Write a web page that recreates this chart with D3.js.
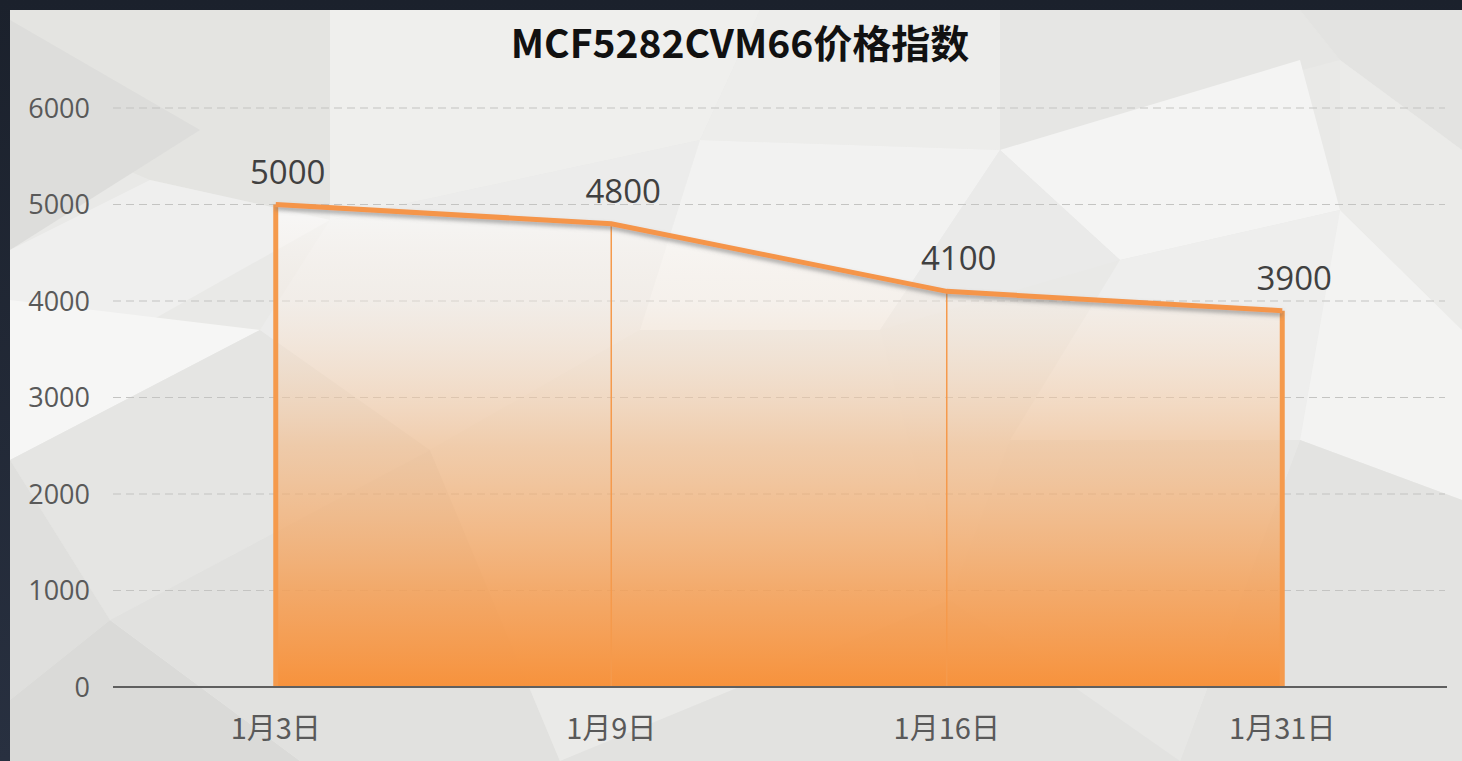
<!DOCTYPE html>
<html>
<head>
<meta charset="utf-8">
<script src="https://cdn.jsdelivr.net/npm/d3@7"></script>
<style>
html,body{margin:0;padding:0;background:#232a35;}
svg{display:block;}
</style>
</head>
<body>
<svg id="chart" width="1462" height="761"></svg>
<script>
const title = "MCF5282CVM66价格指数";
const categories = ["1月3日", "1月9日", "1月16日", "1月31日"];
const values = [5000, 4800, 4100, 3900];
const yTicks = [0, 1000, 2000, 3000, 4000, 5000, 6000];

const W = 1462, H = 761;
const svg = d3.select("#chart");
const defs = svg.append("defs");

// frame
const fg = defs.append("linearGradient").attr("id","frame").attr("x1",0).attr("y1",0).attr("x2",0).attr("y2",1);
fg.append("stop").attr("offset",0).attr("stop-color","#1b212c");
fg.append("stop").attr("offset",1).attr("stop-color","#283040");
svg.append("rect").attr("width",W).attr("height",H).attr("fill","url(#frame)");

// light low-poly background
const bg = svg.append("g");
bg.append("rect").attr("x",10).attr("y",10).attr("width",W-10).attr("height",H-10).attr("fill","#e9e9e7");
const polys = [
  [[10,10],[330,10],[330,220],[150,180],[10,120],"#e4e4e1"],
  [[10,20],[200,130],[10,250],"#dddddb"],
  [[330,10],[760,10],[700,140],[330,220],"#efefed"],
  [[760,10],[1000,10],[1000,150],[700,140],"#ededeb"],
  [[1000,10],[1300,10],[1340,60],[1000,150],"#e6e6e4"],
  [[1000,150],[1300,60],[1340,210],[1120,260],"#f4f4f3"],
  [[1300,10],[1462,10],[1462,150],[1340,60],"#e3e3e1"],
  [[1340,60],[1462,150],[1462,330],[1340,210],"#ebebe9"],
  [[10,250],[150,180],[330,220],[10,400],"#efefee"],
  [[10,300],[260,330],[10,460],"#f6f6f5"],
  [[10,460],[260,330],[430,450],[110,620],"#e5e5e3"],
  [[10,460],[110,620],[10,700],"#dfdfdd"],
  [[10,700],[110,620],[300,761],[10,761],"#dadad8"],
  [[110,620],[430,450],[560,761],[300,761],"#e1e1df"],
  [[330,220],[700,140],[640,330],[430,450],[260,330],"#ececeb"],
  [[700,140],[1000,150],[880,330],[640,330],"#f2f2f1"],
  [[1000,150],[1120,260],[880,330],"#eaeae9"],
  [[1120,260],[1340,210],[1300,440],[1010,440],"#eeeeed"],
  [[1340,210],[1462,330],[1462,500],[1300,440],"#f3f3f2"],
  [[1300,440],[1462,500],[1462,761],[1180,761],"#e3e3e1"],
  [[1010,440],[1300,440],[1180,761],[950,600],"#e7e7e5"],
  [[430,450],[640,330],[880,330],[950,600],[560,761],"#eaeae8"],
  [[950,600],[1180,761],[560,761],"#e2e2e0"]
];
polys.forEach(p => {
  const col = p[p.length-1];
  const pts = p.slice(0,-1);
  bg.append("polygon").attr("points", pts.map(d=>d.join(",")).join(" ")).attr("fill", col);
});

// scales
const x = d3.scaleBand().domain(categories).range([108, 1450]).padding(0);
const y = d3.scaleLinear().domain([0, 6000]).range([687, 108]);
const cx = c => x(c) + x.bandwidth()/2;

const fontNum = "'Open Sans','Noto Sans CJK SC',sans-serif";

// gridlines
svg.append("g").selectAll("line").data(yTicks.filter(t=>t>0)).join("line")
  .attr("x1",113).attr("x2",1445)
  .attr("y1",d=>y(d)).attr("y2",d=>y(d))
  .attr("stroke","#c4c4c2").attr("stroke-width",1.2).attr("stroke-dasharray","8,5");

// area gradient
const ag = defs.append("linearGradient").attr("id","areaGrad")
  .attr("gradientUnits","userSpaceOnUse").attr("x1",0).attr("y1",y(5000)).attr("x2",0).attr("y2",y(0));
ag.append("stop").attr("offset",0).attr("stop-color","#ffffff").attr("stop-opacity",0.55);
ag.append("stop").attr("offset",0.2).attr("stop-color","#fbeee2").attr("stop-opacity",0.35);
ag.append("stop").attr("offset",0.5).attr("stop-color","#f5b47a").attr("stop-opacity",0.55);
ag.append("stop").attr("offset",0.8).attr("stop-color","#f59f55").attr("stop-opacity",0.85);
ag.append("stop").attr("offset",1).attr("stop-color","#f7923c").attr("stop-opacity",1);

const data = categories.map((c,i)=>({c, v: values[i]}));
const area = d3.area().x(d=>cx(d.c)).y0(y(0)).y1(d=>y(d.v));
svg.append("path").datum(data).attr("d", area).attr("fill","url(#areaGrad)");

// drop lines
svg.append("g").selectAll("line").data(data).join("line")
  .attr("x1",d=>cx(d.c)).attr("x2",d=>cx(d.c))
  .attr("y1",d=>y(d.v)).attr("y2",y(0))
  .attr("stroke","#f59a4c")
  .attr("stroke-width",(d,i)=> (i===0||i===data.length-1) ? 5 : 1.5);

// shadow filter
const f = defs.append("filter").attr("id","shadow").attr("x","-5%").attr("y","-50%").attr("width","110%").attr("height","200%");
f.append("feDropShadow").attr("dx",0).attr("dy",3).attr("stdDeviation",2).attr("flood-color","#707070").attr("flood-opacity",0.6);

const line = d3.line().x(d=>cx(d.c)).y(d=>y(d.v));
svg.append("path").datum(data).attr("d", line)
  .attr("fill","none").attr("stroke","#f5954a").attr("stroke-width",5)
  .attr("stroke-linejoin","miter").attr("filter","url(#shadow)");

// x axis line
svg.append("line").attr("x1",113).attr("x2",1447).attr("y1",y(0)).attr("y2",y(0))
  .attr("stroke","#5f5f5f").attr("stroke-width",2);

// y tick labels
svg.append("g").selectAll("text").data(yTicks).join("text")
  .attr("x",90).attr("y",d=>y(d)).attr("dy","0.36em")
  .attr("text-anchor","end").attr("font-family",fontNum).attr("font-size",27)
  .attr("fill","#595959").text(d=>d);

// x labels
svg.append("g").selectAll("text").data(categories).join("text")
  .attr("x",d=>cx(d)).attr("y",739)
  .attr("text-anchor","middle").attr("font-family","'Noto Sans CJK SC',sans-serif").attr("font-size",29)
  .attr("fill","#595959").text(d=>d);

// data labels
svg.append("g").selectAll("text").data(data).join("text")
  .attr("x",d=>cx(d.c)+12).attr("y",d=>y(d.v)-21)
  .attr("text-anchor","middle").attr("font-family",fontNum).attr("font-size",33)
  .attr("fill","#404040").text(d=>d.v);

// title
svg.append("text").attr("x",740).attr("y",58).attr("text-anchor","middle")
  .attr("font-family","'Noto Sans CJK SC',sans-serif").attr("font-weight","bold").attr("font-size",39)
  .attr("fill","#111").text(title);
</script>
</body>
</html>
